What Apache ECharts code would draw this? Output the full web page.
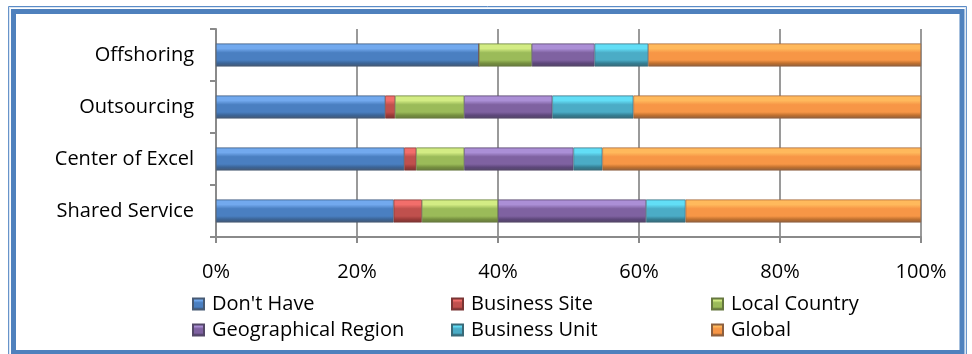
<!DOCTYPE html>
<html>
<head>
<meta charset="utf-8">
<script src="https://cdn.jsdelivr.net/npm/echarts@6/dist/echarts.min.js"></script>
<style>
  html, body { margin: 0; padding: 0; background: #fff; }
  #chart { width: 972px; height: 354px; }
</style>
</head>
<body>
<div id="chart"></div>
<script>
// Categories, listed bottom to top as drawn on the vertical axis
const categories = ['Shared Service', 'Center of Excel', 'Outsourcing', 'Offshoring'];

// Share of respondents per scope (percent), same order as categories
const dontHave      = [25.2, 26.7, 24.0, 37.3];
const businessSite  = [4.0, 1.7, 1.4, 0.0];
const localCountry  = [10.8, 6.8, 9.8, 7.5];
const geoRegion     = [21.0, 15.5, 12.5, 8.9];
const businessUnit  = [5.6, 4.1, 11.5, 7.6];
const globalScope   = [33.4, 45.2, 40.8, 38.7];

const seriesNames = ["Don't Have", 'Business Site', 'Local Country', 'Geographical Region', 'Business Unit', 'Global'];
const seriesValues = [dontHave, businessSite, localCountry, geoRegion, businessUnit, globalScope];

// Bevel palette per series: [highlight, body, shade, edge]
const palettes = [
  ['#72a9ee', '#4a7fc1', '#3b6496', '#475a74'],
  ['#f26e6b', '#c0504d', '#9a3a38', '#7a3534'],
  ['#d3ec84', '#9bbb59', '#758f3f', '#66783f'],
  ['#ab8fd6', '#7f62a1', '#5d477a', '#544868'],
  ['#62def6', '#4bacc6', '#347e93', '#3a6a78'],
  ['#ffb95c', '#f79646', '#c0702f', '#8d603f']
];

function barFill(p) {
  return new echarts.graphic.LinearGradient(0, 0, 0, 1, [
    { offset: 0, color: p[1] },
    { offset: 0.06, color: p[0] },
    { offset: 0.22, color: p[0] },
    { offset: 0.4, color: p[1] },
    { offset: 0.72, color: p[1] },
    { offset: 0.86, color: p[2] },
    { offset: 1, color: p[3] }
  ]);
}

const fontFamily = '"Open Sans", sans-serif';

const series = seriesNames.map((name, i) => ({
  name: name,
  type: 'bar',
  stack: 'total',
  barWidth: 23,
  data: seriesValues[i],
  itemStyle: { color: barFill(palettes[i]), borderColor: palettes[i][3], borderWidth: 0.6 },
  emphasis: { disabled: true }
}));

function legendColumn(names, left) {
  return {
    orient: 'vertical',
    left: left,
    top: 288,
    itemWidth: 11,
    itemHeight: 11,
    itemGap: 4,
    icon: 'rect',
    selectedMode: false,
    data: names,
    textStyle: { fontFamily: fontFamily, fontSize: 20, color: '#000', padding: [0, 0, 0, 3], lineHeight: 22 }
  };
}

const chart = echarts.init(document.getElementById('chart'), null, { renderer: 'canvas' });
chart.setOption({
  animation: false,
  backgroundColor: '#fff',
  grid: { left: 216, right: 51, top: 29, bottom: 117, containLabel: false },
  xAxis: {
    type: 'value',
    min: 0,
    max: 100,
    interval: 20,
    axisLine: { show: true, lineStyle: { color: '#8a8a8a', width: 2 } },
    axisTick: { show: true, length: 6, lineStyle: { color: '#8a8a8a', width: 2 } },
    splitLine: { show: true, lineStyle: { color: '#9a9a9a', width: 2 } },
    axisLabel: {
      formatter: '{value}%',
      margin: 25,
      fontFamily: fontFamily,
      fontSize: 20,
      color: '#000'
    }
  },
  yAxis: {
    type: 'category',
    data: categories,
    axisLine: { show: true, lineStyle: { color: '#8a8a8a', width: 2 } },
    axisTick: { show: true, length: 6, alignWithLabel: false, lineStyle: { color: '#8a8a8a', width: 2 } },
    axisLabel: { margin: 22, fontFamily: fontFamily, fontSize: 20, color: '#000' }
  },
  legend: [
    legendColumn(["Don't Have", 'Geographical Region'], 187),
    legendColumn(['Business Site', 'Business Unit'], 446),
    legendColumn(['Local Country', 'Global'], 706)
  ],
  graphic: [
    // double frame around the chart
    { type: 'rect', silent: true, z: 100,
      shape: { x: 8.5, y: 6.5, width: 958, height: 352 },
      style: { fill: null, stroke: '#5b8bc6', lineWidth: 1 } },
    { type: 'rect', silent: true, z: 100,
      shape: { x: 9.5, y: 7.5, width: 956, height: 350 },
      style: { fill: null, stroke: '#dbe6f3', lineWidth: 1.2 } },
    { type: 'rect', silent: true, z: 100,
      shape: { x: 13.5, y: 11.5, width: 948.5, height: 341 },
      style: { fill: null, stroke: '#4f81bd', lineWidth: 5 } }
  ],
  series: series
});
</script>
</body>
</html>
